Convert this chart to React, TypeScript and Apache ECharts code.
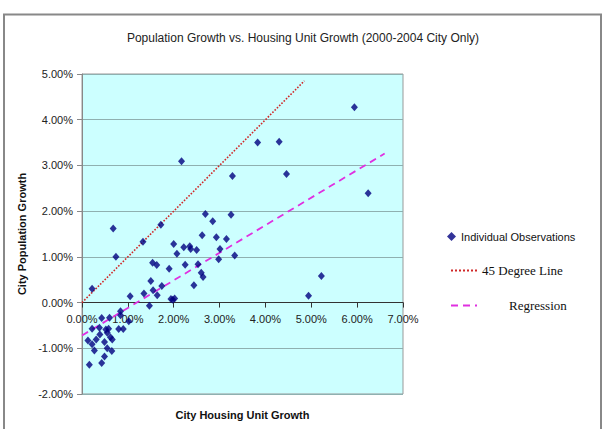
import React, { useEffect, useRef } from "react";
import * as echarts from "echarts";

const chartTitle = "Population Growth vs. Housing Unit Growth (2000-2004 City Only)";
const xAxisName = "City Housing Unit Growth";
const yAxisName = "City Population Growth";
const seriesNames = ["Individual Observations", "45 Degree Line", "Regression"];

// City housing unit growth (%) for each city
const housingGrowth = [
  0.68, 0.74, 0.22, 1.33, 1.72, 1.05, 1.35, 1.47, 1.50, 1.55,
  1.54, 1.63, 1.64, 1.74, 1.90, 1.94, 2.02, 1.98, 2.00, 2.07,
  2.22, 2.25, 2.35, 2.37, 2.44, 2.50, 2.53, 2.62, 2.60, 2.64,
  2.69, 2.85, 2.93, 2.98, 3.01, 3.15, 3.25, 3.33, 4.94, 5.22,
  2.17, 3.83, 4.30, 3.28, 4.46, 5.94, 6.24,
  0.43, 0.60, 0.84, 0.84, 1.02, 0.22, 0.38, 0.52, 0.58, 0.80,
  0.90, 0.55, 0.39, 0.62, 0.66, 0.31, 0.13, 0.22, 0.49, 0.55,
  0.27, 0.65, 0.49, 0.43, 0.16,
];
// City population growth (%) for each city
const populationGrowth = [
  1.62, 1.00, 0.30, 1.33, 1.70, 0.14, 0.20, -0.07, 0.47, 0.27,
  0.87, 0.82, 0.16, 0.36, 0.74, 0.08, 0.09, 0.06, 1.28, 1.07,
  1.21, 0.83, 1.23, 1.17, 0.38, 1.15, 0.84, 1.47, 0.65, 0.56,
  1.94, 1.78, 1.43, 0.95, 1.17, 1.39, 1.92, 1.03, 0.15, 0.58,
  3.09, 3.50, 3.52, 2.77, 2.81, 4.27, 2.39,
  -0.34, -0.33, -0.19, -0.28, -0.41, -0.57, -0.55, -0.59, -0.57, -0.58,
  -0.58, -0.66, -0.70, -0.76, -0.81, -0.81, -0.83, -0.91, -0.86, -1.00,
  -1.05, -1.06, -1.18, -1.32, -1.36,
];

// Reference lines: 45 degree line and fitted regression (endpoints in %)
const degreeLineX = [0, 4.85];
const degreeLineY = [0, 4.85];
const regressionX = [0, 6.6];
const regressionY = [-0.72, 3.26];

const xTicks = { min: 0, max: 7, interval: 1 };
const yTicks = { min: -2, max: 5, interval: 1 };

const SANS = "'Liberation Sans', Arial, sans-serif";
const SERIF = "'Liberation Serif', 'Times New Roman', serif";

const pct = (v: number) => v.toFixed(2) + "%";

const WIDTH = 606;
const HEIGHT = 429;
const GRID = { left: 82, right: 203, top: 74, bottom: 35 };

export default function App() {
  const ref = useRef<HTMLDivElement>(null);
  useEffect(() => {
    if (!ref.current) return;
    const chart = echarts.init(ref.current, null, { renderer: "svg" });
    const obs = housingGrowth.map((x, i) => [x, populationGrowth[i]]);
    const deg = degreeLineX.map((x, i) => [x, degreeLineY[i]]);
    const reg = regressionX.map((x, i) => [x, regressionY[i]]);
    // shift the x axis (line, ticks, labels) up to y = 0, like Excel
    const plotH = HEIGHT - GRID.top - GRID.bottom;
    const zeroOffset = -((0 - yTicks.min) / (yTicks.max - yTicks.min)) * plotH;
    chart.setOption({
      animation: false,
      backgroundColor: "#ffffff",
      title: {
        text: chartTitle,
        left: "center",
        top: 27,
        textStyle: { fontFamily: SANS, fontSize: 12, fontWeight: "normal", color: "#222" },
      },
      graphic: [
        {
          type: "rect",
          shape: { x: 4, y: 14.5, width: 597, height: 430 },
          style: { fill: "none", stroke: "#888", lineWidth: 2 },
          silent: true,
        },
      ],
      legend: [
        {
          data: [seriesNames[0]],
          left: 447,
          top: 231,
          itemWidth: 9,
          itemHeight: 9,
          padding: 0,
          textStyle: { fontFamily: SANS, fontSize: 11, color: "#111" },
        },
        {
          data: [seriesNames[1]],
          left: 450,
          top: 264,
          itemWidth: 26,
          itemHeight: 14,
          padding: 0,
          itemStyle: { opacity: 0 },
          textStyle: { fontFamily: SERIF, fontSize: 13, color: "#111" },
        },
        {
          data: [seriesNames[2]],
          left: 450,
          top: 299,
          itemWidth: 26,
          itemHeight: 14,
          padding: 0,
          itemStyle: { opacity: 0 },
          textStyle: { fontFamily: SERIF, fontSize: 13, color: "#111", padding: [0, 0, 0, 27] },
        },
      ],
      grid: {
        ...GRID,
        show: true,
        backgroundColor: "#ccffff",
        borderColor: "#999",
        borderWidth: 1,
      },
      xAxis: [
        {
          type: "value",
          ...xTicks,
          position: "bottom",
          offset: zeroOffset,
          axisLine: { show: true, onZero: false, lineStyle: { color: "#333", width: 1 } },
          axisTick: { show: true, length: 5, lineStyle: { color: "#333" } },
          axisLabel: { formatter: pct, fontFamily: SANS, fontSize: 11, color: "#222", margin: 11 },
          splitLine: { show: false },
        },
        {
          type: "value",
          ...xTicks,
          position: "bottom",
          name: xAxisName,
          nameLocation: "middle",
          nameGap: 15,
          nameTextStyle: { fontFamily: SANS, fontSize: 11, fontWeight: "bold", color: "#111" },
          axisLine: { show: false, onZero: false },
          axisTick: { show: false },
          axisLabel: { show: false },
          splitLine: { show: false },
        },
      ],
      yAxis: {
        type: "value",
        ...yTicks,
        name: yAxisName,
        nameLocation: "middle",
        nameGap: 49,
        nameTextStyle: { fontFamily: SANS, fontSize: 11, fontWeight: "bold", color: "#111" },
        axisLine: { show: true, onZero: false, lineStyle: { color: "#888" } },
        axisTick: { show: true, length: 5, lineStyle: { color: "#888" } },
        axisLabel: { formatter: pct, fontFamily: SANS, fontSize: 11, color: "#222", margin: 9 },
        splitLine: { show: true, lineStyle: { color: "#8fb0b0", width: 1 } },
      },
      series: [
        {
          name: seriesNames[0],
          type: "scatter",
          xAxisIndex: 0,
          data: obs,
          symbol: "diamond",
          symbolSize: [7, 8],
          itemStyle: { color: "#000080" },
          z: 3,
        },
        {
          name: seriesNames[1],
          type: "line",
          xAxisIndex: 0,
          data: deg,
          symbol: "none",
          lineStyle: { color: "#d02828", width: 1.6, type: "dotted" },
          itemStyle: { color: "#d02828" },
          emphasis: { disabled: true },
          z: 2,
        },
        {
          name: seriesNames[2],
          type: "line",
          xAxisIndex: 0,
          data: reg,
          symbol: "none",
          lineStyle: { color: "#e030e0", width: 1.8, type: [7, 5] },
          itemStyle: { color: "#e030e0" },
          emphasis: { disabled: true },
          z: 2,
        },
      ],
    });
    return () => chart.dispose();
  }, []);
  return (
    <div
      ref={ref}
      style={{ position: "fixed", left: 0, top: 0, width: WIDTH, height: HEIGHT }}
    />
  );
}
